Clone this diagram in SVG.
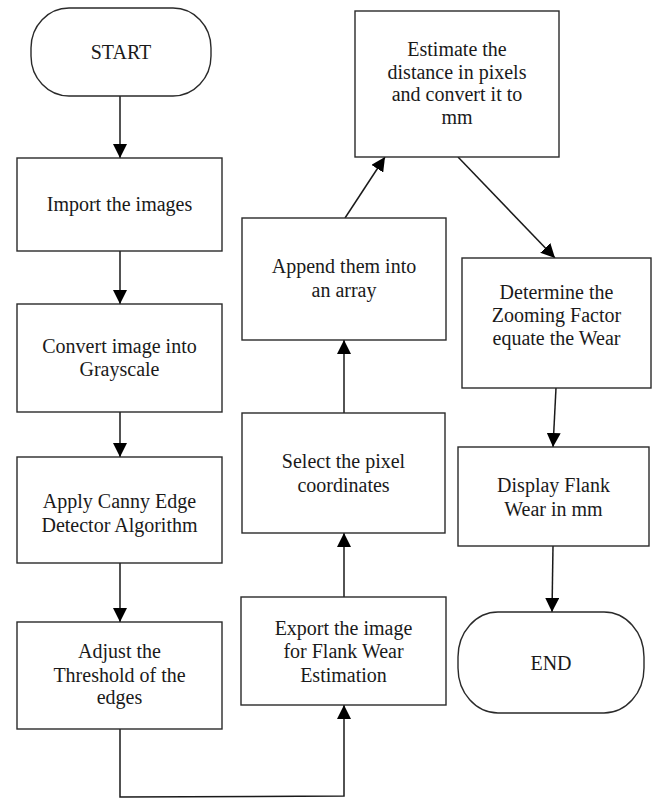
<svg xmlns="http://www.w3.org/2000/svg" width="656" height="799" viewBox="0 0 656 799">
  <style>
    .box { fill: #ffffff; stroke: #2a2a2a; stroke-width: 1.4; }
    .lbl { font-size: 20px; fill: #1a1a1a; text-anchor: middle; }
    .conn { fill: none; stroke: #1a1a1a; stroke-width: 1.5; }
  </style>
  <defs>
    <marker id="arrow" markerUnits="userSpaceOnUse" markerWidth="14" markerHeight="14" refX="14" refY="7" orient="auto">
      <path d="M0,0 L14,7 L0,14 z" fill="#000"/>
    </marker>
  </defs>
  <rect width="656" height="799" fill="#ffffff"/>

  <g id="connectors">
    <line class="conn" x1="120" y1="96" x2="120" y2="158" marker-end="url(#arrow)"/>
    <line class="conn" x1="120" y1="251" x2="120" y2="304" marker-end="url(#arrow)"/>
    <line class="conn" x1="120" y1="412" x2="120" y2="457" marker-end="url(#arrow)"/>
    <line class="conn" x1="120" y1="563" x2="120" y2="622" marker-end="url(#arrow)"/>
    <polyline class="conn" points="120,729 120,797 344,796 344,705" marker-end="url(#arrow)"/>
    <line class="conn" x1="344" y1="597" x2="344" y2="533" marker-end="url(#arrow)"/>
    <line class="conn" x1="344" y1="413" x2="344" y2="340" marker-end="url(#arrow)"/>
    <line class="conn" x1="345" y1="218" x2="385" y2="157" marker-end="url(#arrow)"/>
    <line class="conn" x1="458" y1="157" x2="555" y2="258" marker-end="url(#arrow)"/>
    <line class="conn" x1="556" y1="388" x2="553" y2="447" marker-end="url(#arrow)"/>
    <line class="conn" x1="553" y1="546" x2="552" y2="612" marker-end="url(#arrow)"/>
  </g>

  <g font-family="'Liberation Serif', 'DejaVu Serif', serif">
  <g id="start">
    <rect class="box" x="31" y="8" width="180" height="88" rx="38" ry="40"/>
    <text class="lbl" x="121" y="59">START</text>
  </g>
  <g id="import">
    <rect class="box" x="17" y="158" width="205" height="93"/>
    <text class="lbl" x="119.5" y="211">Import the images</text>
  </g>
  <g id="convert">
    <rect class="box" x="17" y="304" width="205" height="108"/>
    <text class="lbl" x="119.5" y="353">Convert image into</text>
    <text class="lbl" x="119.5" y="376">Grayscale</text>
  </g>
  <g id="canny">
    <rect class="box" x="17" y="457" width="205" height="106"/>
    <text class="lbl" x="119.5" y="508">Apply Canny Edge</text>
    <text class="lbl" x="119.5" y="532">Detector Algorithm</text>
  </g>
  <g id="threshold">
    <rect class="box" x="17" y="622" width="205" height="107"/>
    <text class="lbl" x="119.5" y="658">Adjust the</text>
    <text class="lbl" x="119.5" y="682">Threshold of the</text>
    <text class="lbl" x="119.5" y="704">edges</text>
  </g>
  <g id="export">
    <rect class="box" x="241" y="597" width="205" height="108"/>
    <text class="lbl" x="343.5" y="635">Export the image</text>
    <text class="lbl" x="343.5" y="658">for Flank Wear</text>
    <text class="lbl" x="343.5" y="682">Estimation</text>
  </g>
  <g id="select">
    <rect class="box" x="242" y="413" width="203" height="120"/>
    <text class="lbl" x="343.5" y="468">Select the pixel</text>
    <text class="lbl" x="343.5" y="492">coordinates</text>
  </g>
  <g id="append">
    <rect class="box" x="242" y="218" width="204" height="122"/>
    <text class="lbl" x="344" y="273">Append them into</text>
    <text class="lbl" x="344" y="297">an array</text>
  </g>
  <g id="estimate">
    <rect class="box" x="355" y="11" width="204" height="146"/>
    <text class="lbl" x="457" y="56">Estimate the</text>
    <text class="lbl" x="457" y="79">distance in pixels</text>
    <text class="lbl" x="457" y="101">and convert it to</text>
    <text class="lbl" x="457" y="124">mm</text>
  </g>
  <g id="determine">
    <rect class="box" x="462" y="258" width="189" height="130"/>
    <text class="lbl" x="556.5" y="299">Determine the</text>
    <text class="lbl" x="556.5" y="322">Zooming Factor</text>
    <text class="lbl" x="556.5" y="345">equate the Wear</text>
  </g>
  <g id="display">
    <rect class="box" x="458" y="447" width="191" height="99"/>
    <text class="lbl" x="553.5" y="492">Display Flank</text>
    <text class="lbl" x="553.5" y="516">Wear in mm</text>
  </g>
  <g id="end">
    <rect class="box" x="458" y="612" width="186" height="101" rx="40" ry="45"/>
    <text class="lbl" x="551" y="670">END</text>
  </g>
  </g>
</svg>
